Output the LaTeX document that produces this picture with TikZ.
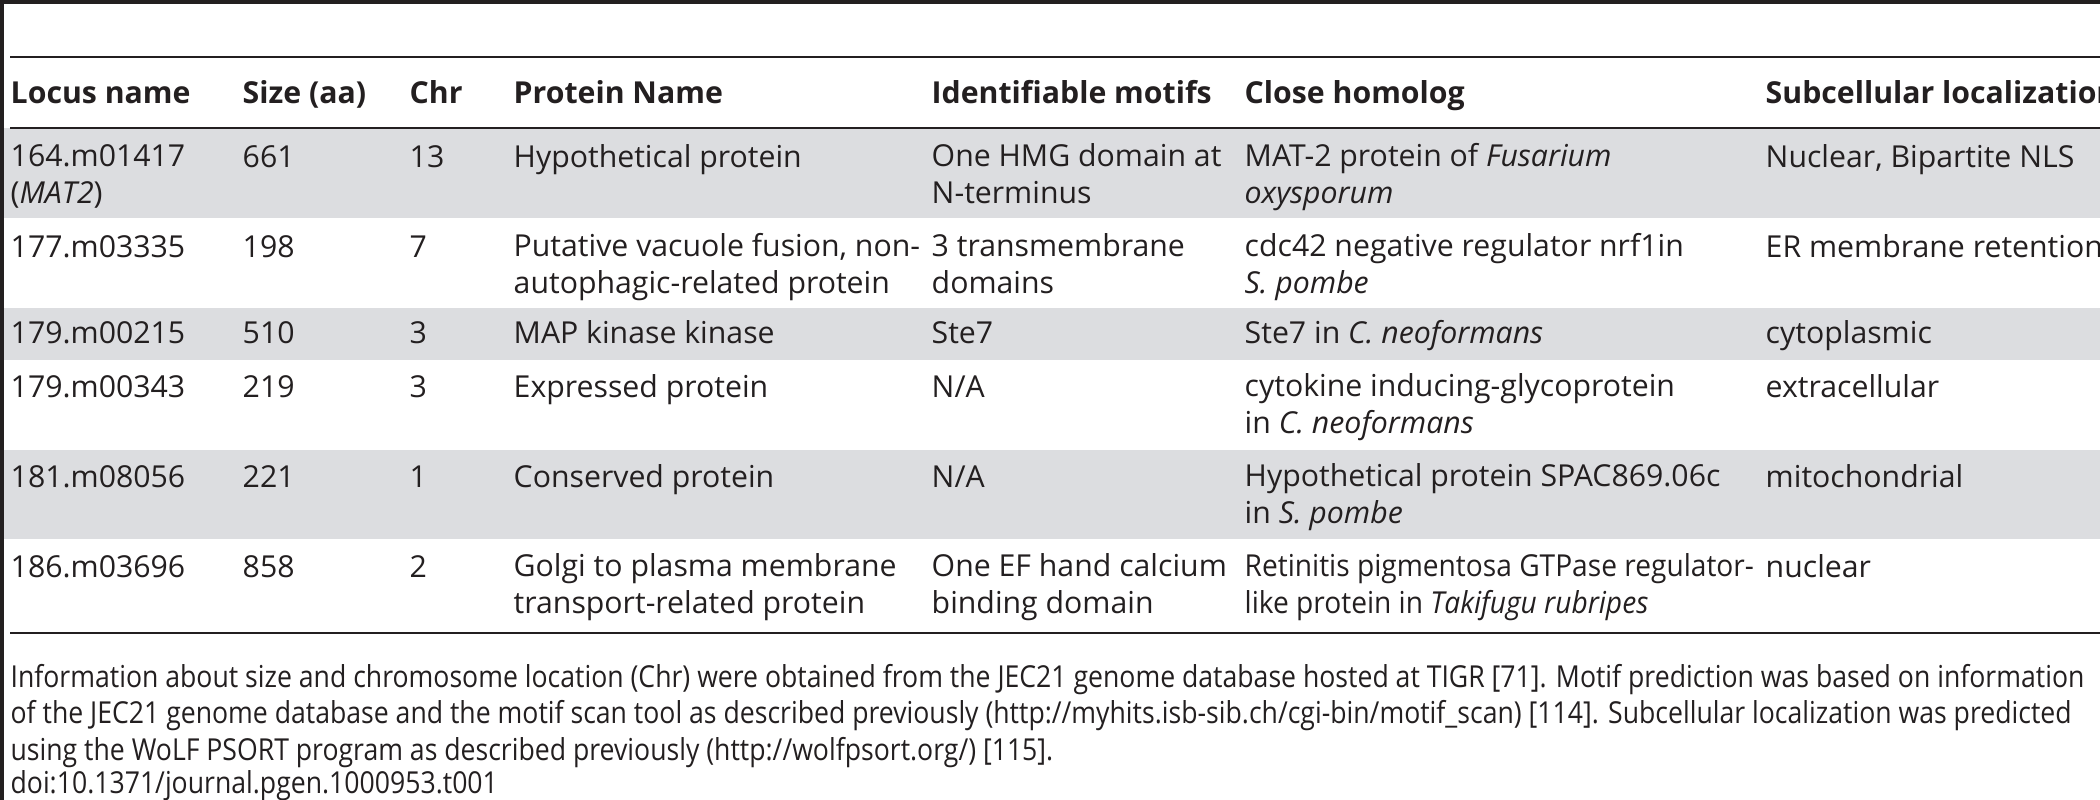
\documentclass[tikz,border=0pt]{standalone}
\usepackage{fontspec}
\setmainfont{Open Sans}
\definecolor{rowgray}{HTML}{DCDDE0}
\definecolor{ink}{HTML}{231F20}
\tikzset{
  cell/.style={anchor=base west,inner sep=0pt,align=left,text=ink,
    font=\fontsize{8.6pt}{10.3pt}\selectfont},
  head/.style={cell,font=\fontsize{8.6pt}{10.3pt}\selectfont\bfseries},
  narrow/.style={cell,xscale=#1,transform shape},
  note/.style={narrow=0.88},
  rule/.style={draw=ink,line width=#1}
}
\begin{document}
\begin{tikzpicture}[x=0.01cm,y=-0.01cm]
  \useasboundingbox (0,0) rectangle (2100,800);
  \clip (0,0) rectangle (2100,800);
  % shaded rows
  \fill[rowgray] (4,128) rectangle (2100,218);
  \fill[rowgray] (4,308) rectangle (2100,360);
  \fill[rowgray] (4,450) rectangle (2100,539);
  % rules
  \fill[ink] (0,0) rectangle (2100,4);
  \fill[ink] (0,0) rectangle (4,800);
  \draw[rule=0.7pt] (10,57) -- (2100,57);
  \draw[rule=0.7pt] (10,128) -- (2100,128);
  \draw[rule=0.7pt] (10,633) -- (2100,633);
  % header
  \node[head] (hlocus) at (10,103) {Locus name};
  \node[head] (hsize) at (242,103) {Size (aa)};
  \node[head] (hchr) at (409,103) {Chr};
  \node[head] (hname) at (513,103) {Protein Name};
  \node[head] (hmotif) at (931,103) {Identifiable motifs};
  \node[head] (hhomolog) at (1244,103) {Close homolog};
  \node[head] (hloc) at (1765,103) {Subcellular localization};
  % row 1 (two-line cells sit on their last baseline)
  \node[cell] (locusa) at (10,203) {164.m01417\\(\textit{MAT2})};
  \node[cell] (sizea) at (242,167) {661};
  \node[cell] (chra) at (409,167) {13};
  \node[cell] (namea) at (513,167) {Hypothetical protein};
  \node[cell] (motifa) at (931,203) {One HMG domain at\\N-terminus};
  \node[cell] (homologa) at (1244,203) {MAT-2 protein of \textit{Fusarium}\\\textit{oxysporum}};
  \node[cell] (loca) at (1765,167) {Nuclear, Bipartite NLS};
  % row 2
  \node[cell] (locusb) at (10,257) {177.m03335};
  \node[cell] (sizeb) at (242,257) {198};
  \node[cell] (chrb) at (409,257) {7};
  \node[cell] (nameb) at (513,293) {Putative vacuole fusion, non-\\autophagic-related protein};
  \node[cell] (motifb) at (931,293) {3 transmembrane\\domains};
  \node[cell] (homologb) at (1244,293) {cdc42 negative regulator nrf1in\\\textit{S. pombe}};
  \node[cell] (locb) at (1765,257) {ER membrane retention};
  % row 3
  \node[cell] (locusc) at (10,343) {179.m00215};
  \node[cell] (sizec) at (242,343) {510};
  \node[cell] (chrc) at (409,343) {3};
  \node[cell] (namec) at (513,343) {MAP kinase kinase};
  \node[cell] (motifc) at (931,343) {Ste7};
  \node[cell] (homologc) at (1244,343) {Ste7 in \textit{C. neoformans}};
  \node[cell] (locc) at (1765,343) {cytoplasmic};
  % row 4
  \node[cell] (locusd) at (10,397) {179.m00343};
  \node[cell] (sized) at (242,397) {219};
  \node[cell] (chrd) at (409,397) {3};
  \node[cell] (named) at (513,397) {Expressed protein};
  \node[cell] (motifd) at (931,397) {N/A};
  \node[cell] (homologd) at (1244,433) {cytokine inducing-glycoprotein\\in \textit{C. neoformans}};
  \node[cell] (locd) at (1765,397) {extracellular};
  % row 5
  \node[cell] (locuse) at (10,487) {181.m08056};
  \node[cell] (sizee) at (242,487) {221};
  \node[cell] (chre) at (409,487) {1};
  \node[cell] (namee) at (513,487) {Conserved protein};
  \node[cell] (motife) at (931,487) {N/A};
  \node[cell] (homologe) at (1244,523) {Hypothetical protein SPAC869.06c\\in \textit{S. pombe}};
  \node[cell] (loce) at (1765,487) {mitochondrial};
  % row 6
  \node[cell] (locusf) at (10,577) {186.m03696};
  \node[cell] (sizef) at (242,577) {858};
  \node[cell] (chrf) at (409,577) {2};
  \node[cell] (namef) at (513,613) {Golgi to plasma membrane\\transport-related protein};
  \node[cell] (motiff) at (931,613) {One EF hand calcium\\binding domain};
  \node[narrow=0.93] (homologf) at (1244,613) {Retinitis pigmentosa GTPase regulator-\\like protein in \textit{Takifugu rubripes}};
  \node[cell] (locf) at (1765,577) {nuclear};
  % footnote
  \node[note] (notea) at (10,687) {Information about size and chromosome location (Chr) were obtained from the JEC21 genome database hosted at TIGR [71]. Motif prediction was based on information};
  \node[note] (noteb) at (10,723) {of the JEC21 genome database and the motif scan tool as described previously (http://myhits.isb-sib.ch/cgi-bin/motif\_scan) [114]. Subcellular localization was predicted};
  \node[note] (notec) at (10,760) {using the WoLF PSORT program as described previously (http://wolfpsort.org/) [115].};
  \node[note] (doi) at (10,793) {doi:10.1371/journal.pgen.1000953.t001};
\end{tikzpicture}
\end{document}
